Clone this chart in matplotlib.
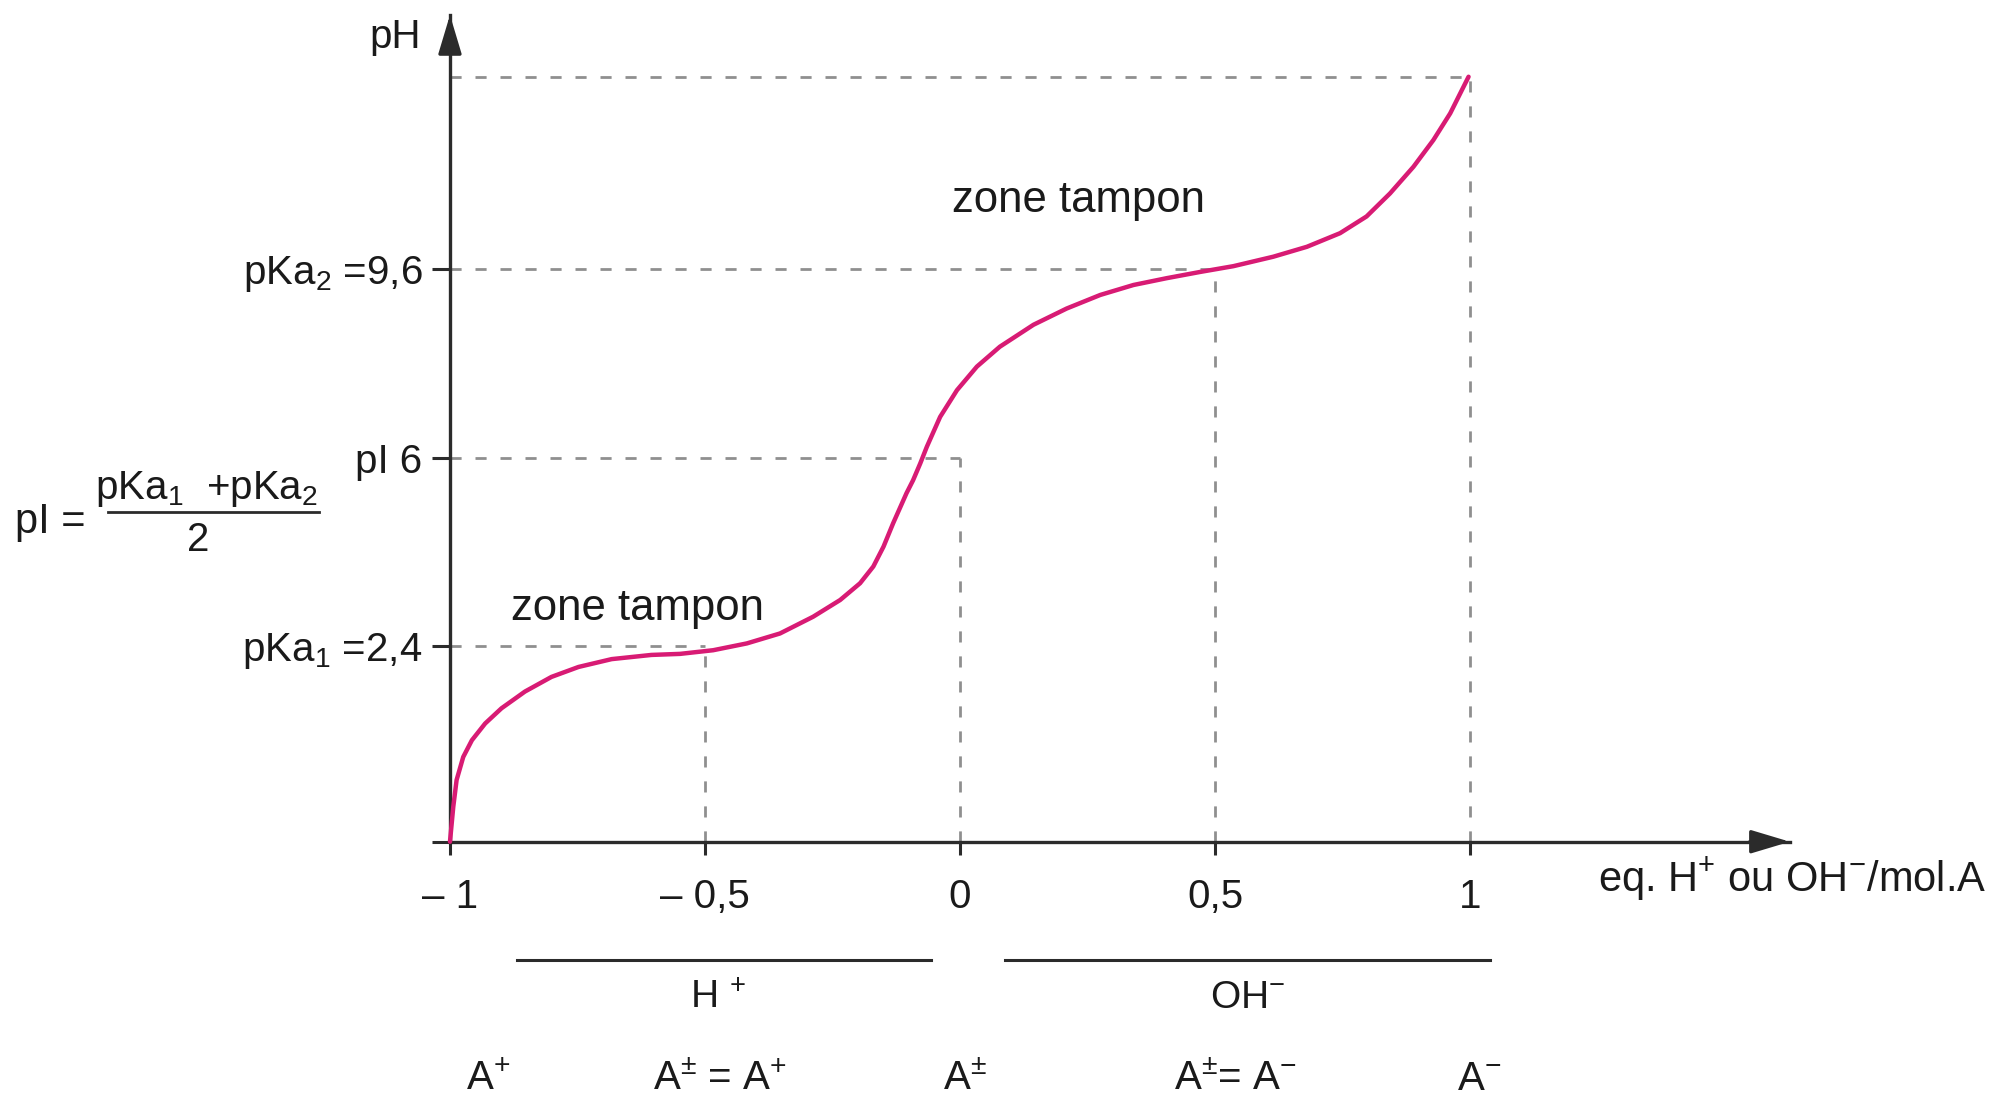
import matplotlib.pyplot as plt

plt.rcParams["font.family"] = ["Liberation Sans", "DejaVu Sans"]
plt.rcParams["mathtext.fontset"] = "custom"
plt.rcParams["mathtext.rm"] = "Liberation Sans"
plt.rcParams["mathtext.it"] = "Liberation Sans:italic"
plt.rcParams["mathtext.default"] = "regular"

# titration curve: equivalents added vs pH (schematic)
EQ = [-1.0, -0.9935, -0.987, -0.974, -0.957, -0.931, -0.899, -0.853, -0.801,
      -0.748, -0.683, -0.605, -0.549, -0.484, -0.418, -0.353, -0.288, -0.235,
      -0.196, -0.170, -0.150, -0.131, -0.105, -0.092, -0.078, -0.065, -0.039,
      -0.006, 0.033, 0.078, 0.144, 0.209, 0.275, 0.340, 0.405, 0.471, 0.536,
      0.614, 0.680, 0.745, 0.797, 0.843, 0.889, 0.928, 0.961, 0.997]
PH = [-1.34, -0.67, -0.16, 0.28, 0.60, 0.92, 1.21, 1.53, 1.81,
      2.00, 2.15, 2.23, 2.25, 2.32, 2.45, 2.64, 2.96, 3.28,
      3.60, 3.92, 4.30, 4.75, 5.32, 5.57, 5.89, 6.21, 6.78,
      7.29, 7.74, 8.12, 8.54, 8.85, 9.11, 9.30, 9.43, 9.55, 9.66,
      9.84, 10.03, 10.29, 10.61, 11.05, 11.56, 12.07, 12.58, 13.28]

PKA1, PI, PKA2, PH_END = 2.4, 6.0, 9.6, 13.28
Y_BOTTOM, Y_TOP = -1.34, 14.46
X_RIGHT = 1.627

GUIDE_X = [-0.5, 0.0, 0.5, 1.0]
GUIDE_Y = [PKA1, PI, PKA2, PH_END]

XTICKS = [-1, -0.5, 0, 0.5, 1]
XTICK_LABELS = ["\u2013 1", "\u2013 0,5", "0", "0,5", "1"]
YTICKS = [Y_BOTTOM, PKA1, PI, PKA2]
YTICK_LABELS = ["", "pKa$_1$ =2,4", "pI 6", "pKa$_2$ =9,6"]

REAGENT_SPANS = [(-0.869, -0.057), (0.088, 1.039)]
REAGENT_X = [-0.475, 0.563]
REAGENTS = ["H $^{+}$", "OH$^{-}$"]

SPECIES_X = [-0.925, -0.47, 0.01, 0.54, 1.017]
SPECIES = ["A$^{+}$", "A$^{\\pm}$ = A$^{+}$", "A$^{\\pm}$",
           "A$^{\\pm}$= A$^{-}$", "A$^{-}$"]

BUFFER_LABELS = [(-0.632, 2.90), (0.233, 10.70)]

AXIS_COLOR = "#2b2b2b"
GUIDE_COLOR = "#8f8f8f"
CURVE_COLOR = "#d81b74"
TEXT_COLOR = "#1a1a1a"

fig = plt.figure(figsize=(19.99, 10.95), dpi=100)
ax = fig.add_axes([0.2251, 0.2313, 0.6703, 0.7550])

# dashed guides
for gx, gy in zip(GUIDE_X, GUIDE_Y):
    ax.plot([-1, gx], [gy, gy], color=GUIDE_COLOR, lw=2, dashes=(4, 5))
    ax.plot([gx, gx], [Y_BOTTOM, gy], color=GUIDE_COLOR, lw=2, dashes=(4, 5))

ax.plot(EQ, PH, color=CURVE_COLOR, lw=3.2, solid_joinstyle="round",
        solid_capstyle="round", clip_on=False, zorder=3)

ax.set_xlim(-1, X_RIGHT)
ax.set_ylim(Y_BOTTOM, Y_TOP)
for s in ("top", "right"):
    ax.spines[s].set_visible(False)
for s in ("left", "bottom"):
    ax.spines[s].set_color(AXIS_COLOR)
    ax.spines[s].set_linewidth(2.4)

ax.set_xticks(XTICKS)
ax.set_xticklabels(XTICK_LABELS)
ax.set_yticks(YTICKS)
ax.set_yticklabels(YTICK_LABELS)
ax.tick_params(axis="x", direction="out", length=9, width=2.2,
               color=AXIS_COLOR, pad=17, labelsize=29, labelcolor=TEXT_COLOR)
ax.tick_params(axis="y", direction="out", length=13, width=2.2,
               color=AXIS_COLOR, pad=7, labelsize=29, labelcolor=TEXT_COLOR)

# arrow heads on both axes
head = dict(arrowstyle="-|>,head_length=1.2,head_width=0.36", mutation_scale=20,
            color=AXIS_COLOR, lw=2.4, shrinkA=0, shrinkB=0)
ax.annotate("", xy=(0, 1), xycoords="axes fraction", xytext=(0, 0.97),
            arrowprops=head)
ax.annotate("", xy=(1, 0), xycoords="axes fraction", xytext=(0.97, 0),
            arrowprops=head)

fig.text(0.1976, 0.956, "pH", fontsize=29, ha="center", va="baseline",
         color=TEXT_COLOR)
ax.text(1.251, -0.0605, "eq. H$^{+}$ ou OH$^{-}$/mol.A", fontsize=30,
        ha="left", va="baseline", transform=ax.get_xaxis_transform(),
        clip_on=False, color=TEXT_COLOR)

for bx, by in BUFFER_LABELS:
    ax.text(bx, by, "zone tampon", fontsize=31.5, ha="center", va="baseline",
            color=TEXT_COLOR)

xt = ax.get_xaxis_transform()
for (x0, x1), rx, lab in zip(REAGENT_SPANS, REAGENT_X, REAGENTS):
    ax.plot([x0, x1], [-0.1431, -0.1431], color=AXIS_COLOR, lw=2.2,
            transform=xt, clip_on=False)
    ax.text(rx, -0.2015, lab, fontsize=28, ha="center", va="baseline",
            transform=xt, clip_on=False, color=TEXT_COLOR)

for sx, lab in zip(SPECIES_X, SPECIES):
    ax.text(sx, -0.3003, lab, fontsize=29, ha="center", va="baseline",
            transform=xt, clip_on=False, color=TEXT_COLOR)

# isoelectric point formula on the left
fig.text(0.0075, 0.5132, "pI =", fontsize=30, ha="left", va="baseline",
         color=TEXT_COLOR)
fig.text(0.1035, 0.5440, "pKa$_1$  +pKa$_2$", fontsize=29, ha="center",
         va="baseline", color=TEXT_COLOR)
fig.add_artist(plt.Line2D([0.054, 0.1596], [0.5320, 0.5320], color=AXIS_COLOR,
                          lw=2.0, transform=fig.transFigure))
fig.text(0.099, 0.4968, "2", fontsize=29, ha="center", va="baseline",
         color=TEXT_COLOR)

fig.savefig("out.png", dpi=100, facecolor="white")
